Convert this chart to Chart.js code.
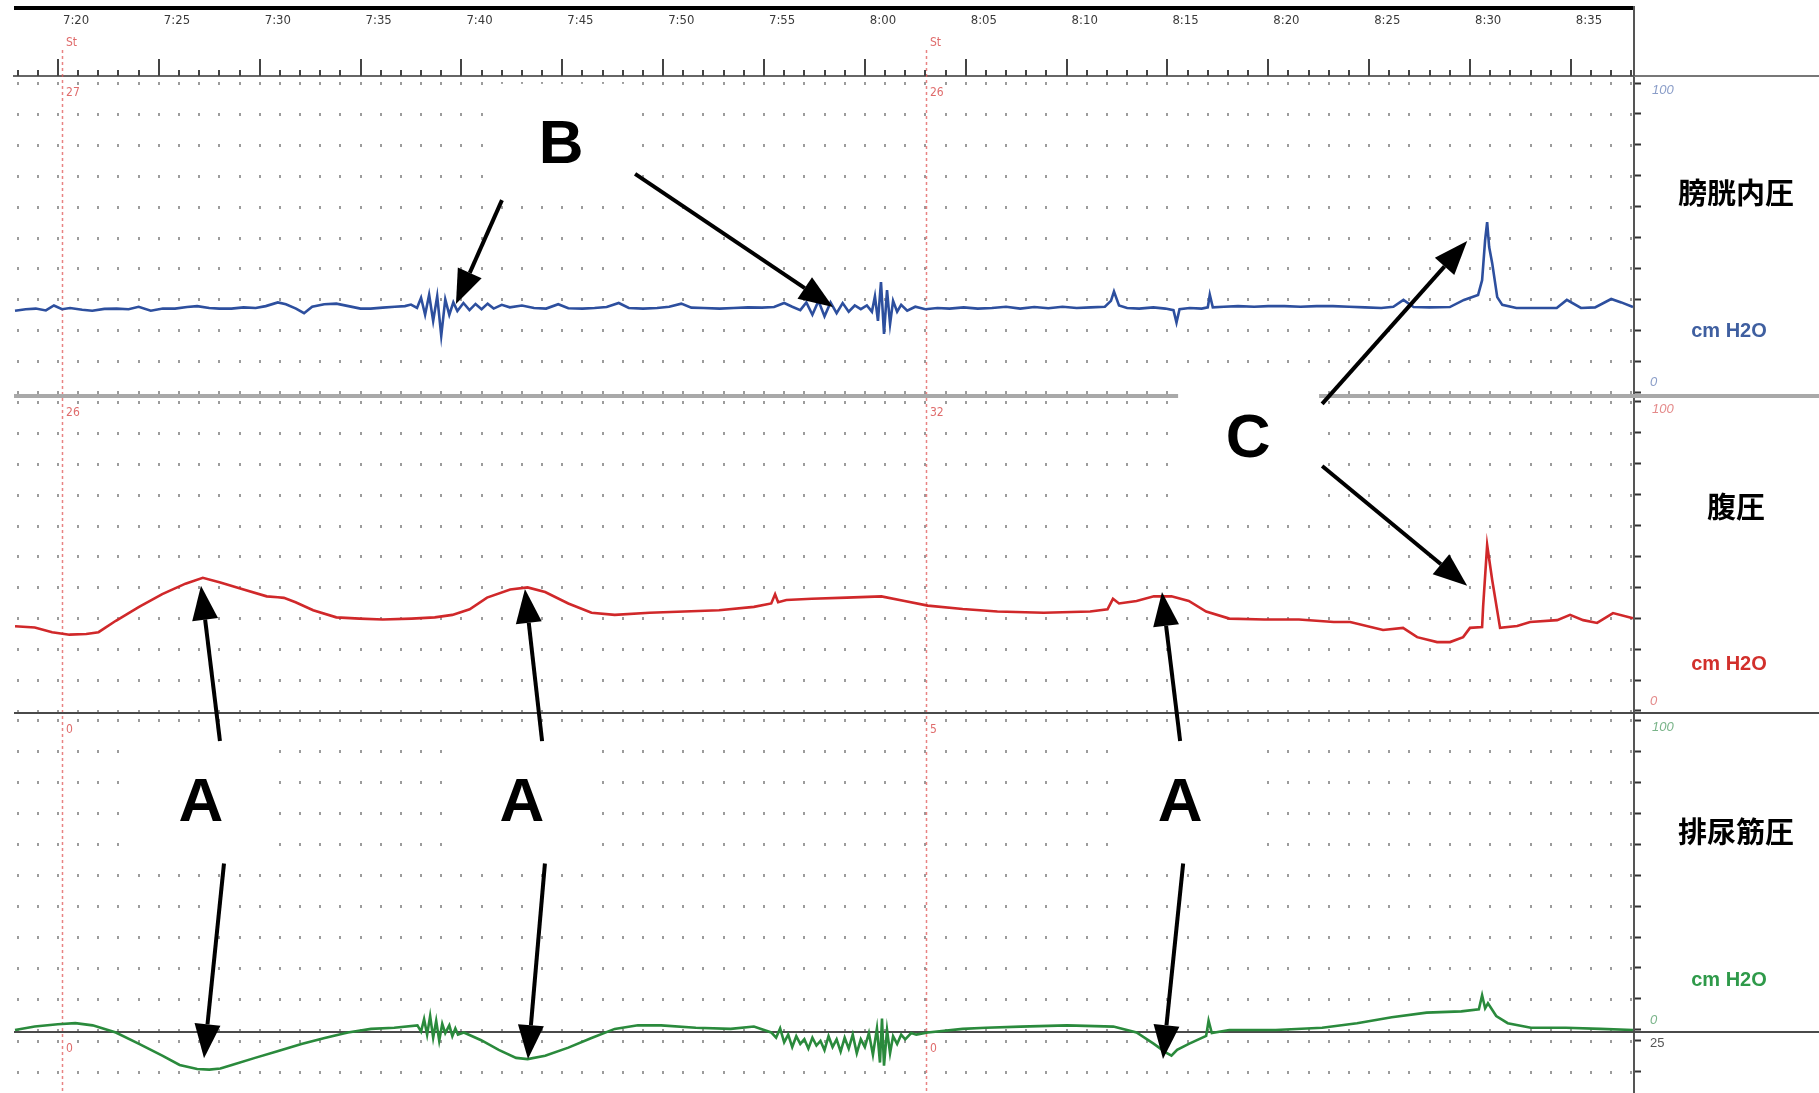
<!DOCTYPE html>
<html>
<head>
<meta charset="utf-8">
<script src="https://cdn.jsdelivr.net/npm/chart.js@4.4.1/dist/chart.umd.min.js"></script>
<style>
html, body { margin: 0; padding: 0; background: #fff; }
</style>
</head>
<body>
<canvas id="grafico" width="1819" height="1093"></canvas>
<script>
// tiempo en minutos despues de las 7:00, valores en cm H2O
const vejiga = [
  [17.87,26.3],[18.4,26.8],[18.9,27.0],[19.4,26.4],[19.8,28.0],[20.2,26.8],[20.6,27.2],[21.2,26.6],
  [21.7,26.3],[22.3,26.9],[22.9,27.0],[23.5,26.8],[24.0,27.6],[24.6,26.3],[25.2,27.0],[25.8,27.0],
  [26.4,27.5],[26.9,27.8],[27.5,27.2],[28.0,27.0],[28.6,27.0],[29.2,27.4],[29.8,27.2],[30.3,27.8],
  [30.9,29.0],[31.3,28.4],[31.8,27.0],[32.2,25.5],[32.6,27.6],[33.2,28.4],[33.8,28.6],[34.4,27.8],
  [35.0,27.0],[35.5,27.0],[36.1,27.3],[36.7,27.6],[37.2,27.8],[37.5,28.3],[37.8,27.2],[38.0,30.5],
  [38.2,25.0],[38.4,31.5],[38.6,23.0],[38.8,31.0],[39.0,18.2],[39.2,30.0],[39.4,25.0],[39.6,29.0],
  [39.8,26.2],[40.1,28.8],[40.4,26.5],[40.7,28.5],[41.0,26.8],[41.3,28.6],[41.6,27.0],[42.0,28.2],
  [42.4,27.4],[43.0,28.0],[43.6,27.2],[44.2,27.0],[44.8,28.4],
  [45.3,27.1],[46.0,27.0],[46.6,27.2],[47.2,27.5],[47.8,28.8],[48.3,27.2],[49.0,27.0],[49.7,27.2],
  [50.3,27.6],[50.9,28.6],[51.4,27.3],[52.0,27.2],[52.8,27.0],[53.5,27.2],[54.2,27.4],[54.9,27.3],
  [55.5,27.5],[56.0,28.8],[56.4,27.6],[56.8,26.5],[57.1,29.0],[57.4,25.0],[57.7,29.5],[58.0,24.5],
  [58.3,29.0],[58.6,25.5],[58.9,28.8],[59.2,26.0],[59.5,28.0],[59.8,26.8],[60.1,28.0],[60.35,26.0],
  [60.5,31.0],[60.65,23.0],[60.8,35.6],[60.95,18.8],[61.1,33.0],[61.25,22.0],[61.4,29.5],[61.6,26.0],
  [61.8,28.2],[62.1,26.3],[62.5,27.6],[63.0,26.8],
  [63.6,27.2],[64.2,27.0],[64.9,27.4],[65.6,27.0],[66.3,27.2],[67.0,27.6],[67.7,27.0],[68.4,27.5],
  [69.1,27.1],[69.8,27.6],[70.5,27.2],[71.2,27.4],[71.9,27.6],[72.2,29.5],[72.35,32.5],[72.6,28.0],
  [73.0,27.2],[73.6,27.0],[74.3,27.4],[74.9,27.0],[75.3,26.5],[75.45,22.5],[75.6,26.8],[76.1,27.2],
  [76.7,27.0],[77.0,27.4],[77.1,31.5],[77.25,27.4],[77.8,27.6],[78.5,27.8],[79.3,27.6],[80.0,27.8],
  [80.8,27.8],[81.6,27.6],[82.4,27.8],[83.2,27.8],[84.0,27.6],[84.8,27.4],[85.6,27.2],[86.2,27.6],
  [86.7,29.8],[87.2,27.5],[88.0,27.4],[89.0,27.5],[89.7,29.8],[90.4,31.4],[90.6,36.2],[90.75,49.2],
  [90.85,55.0],[90.95,46.9],[91.1,41.7],[91.35,30.7],[91.6,28.2],[92.3,27.2],[93.5,27.2],[94.3,27.2],
  [94.8,29.8],[95.5,27.2],[96.2,27.4],[97.0,30.1],[97.5,29.0],[98.08,27.5]
];

const abdominal = [
  [17.87,27.4],[18.85,27.0],[19.71,25.5],[20.57,24.7],[21.4,24.9],[22.01,25.5],[22.87,29.2],[24.02,33.7],
  [25.17,37.8],[26.32,41.2],[27.18,43.1],[28.05,41.6],[29.2,39.3],[30.35,37.1],[30.9,36.8],[31.2,36.6],
  [31.78,35.2],[32.65,32.6],[33.8,30.3],[34.95,29.9],[36.1,29.6],[37.53,29.9],[38.68,30.3],[39.55,31.1],
  [40.41,32.9],[41.27,36.7],[42.42,39.3],[43.28,40.0],[44.15,38.5],[45.3,34.8],[46.45,31.8],[47.6,31.1],
  [49.32,31.8],[51.05,32.2],[52.77,32.6],[54.5,33.7],[55.36,34.8],[55.55,37.8],[55.7,35.2],[56.11,35.9],
  [57.37,36.3],[59.1,36.7],[60.82,37.1],[61.97,35.6],[63.12,34.1],[64.85,33.0],[66.57,32.2],[68.87,31.8],
  [71.17,32.2],[72.03,32.9],[72.3,36.3],[72.6,34.8],[73.47,35.6],[74.33,37.1],[75.2,37.1],[76.06,35.6],
  [76.92,32.2],[78.07,29.9],[79.8,29.6],[81.52,29.6],[83.25,28.8],[84.06,28.8],[85.69,26.2],[86.68,26.9],
  [87.38,23.9],[88.37,22.3],[89.01,22.3],[89.66,23.9],[90.0,26.9],[90.6,27.2],[90.65,33.7],[90.85,53.7],
  [91.1,42.4],[91.49,26.9],[92.34,27.5],[92.98,28.8],[94.32,29.4],[94.96,31.1],[95.61,29.4],[96.3,28.5],
  [97.09,31.7],[98.08,30.0]
];

const detrusor = [
  [17.87,0.0],[18.85,1.1],[19.99,1.85],[20.86,2.2],[21.72,1.5],[22.87,-0.8],[24.02,-4.5],[25.17,-8.3],
  [26.03,-11.3],[26.9,-12.6],[27.5,-12.8],[28.05,-12.4],[28.62,-11.3],[29.77,-9.0],[30.92,-6.8],[32.07,-4.5],
  [33.22,-2.6],[34.37,-0.8],[35.52,0.35],[36.67,0.7],[37.82,1.5],[38.0,-0.5],[38.15,3.5],[38.3,-1.5],
  [38.45,4.5],[38.6,-2.5],[38.75,3.0],[38.9,-3.5],[39.05,2.0],[39.2,-1.0],[39.4,1.5],[39.55,-2.0],
  [39.7,0.5],[39.83,-1.5],[40.12,-0.8],[40.98,-3.3],[41.85,-6.4],[42.71,-9.0],[43.28,-9.4],[44.15,-8.3],
  [45.3,-5.7],[46.45,-2.6],[47.6,0.35],[48.75,1.5],[49.9,1.5],[51.62,0.7],[53.35,0.35],[54.5,1.1],
  [55.36,-0.8],[55.6,-2.5],[55.8,0.5],[56.0,-4.0],[56.2,-1.5],[56.4,-5.5],[56.6,-2.0],[56.8,-4.5],
  [57.0,-3.0],[57.2,-6.0],[57.4,-2.5],[57.6,-5.0],[57.8,-3.5],[58.0,-6.5],[58.2,-2.0],[58.4,-5.5],
  [58.6,-3.0],[58.8,-7.0],[59.0,-2.5],[59.2,-6.0],[59.4,-1.5],[59.6,-7.5],[59.8,-3.0],[60.0,-5.5],
  [60.2,-1.0],[60.4,-8.0],[60.6,0.5],[60.75,-10.5],[60.85,3.7],[60.95,-11.5],[61.1,0.0],[61.25,-7.5],
  [61.4,-2.0],[61.6,-4.5],[61.8,-1.5],[62.0,-3.0],[62.3,-1.0],[62.55,-1.5],[63.12,-0.8],[64.85,0.35],
  [66.0,0.7],[67.72,1.1],[70.02,1.48],[72.32,1.1],[73.47,-0.8],[74.33,-4.5],[74.91,-7.2],[75.2,-8.3],
  [75.48,-6.4],[76.06,-4.5],[76.92,-1.9],[77.04,3.0],[77.2,-1.0],[78.07,0.0],[80.37,0.0],[82.67,0.73],
  [84.4,2.2],[86.12,4.1],[87.85,5.6],[89.57,6.0],[90.44,6.7],[90.6,11.2],[90.75,7.0],[90.89,8.6],
  [91.3,4.5],[91.87,2.2],[93.02,0.73],[94.75,0.73],[96.47,0.35],[98.08,0.0]
];

// etiquetas de cada canal
const titulosPanel = ['膀胱内圧', '腹圧', '排尿筋圧'];
const unidad = 'cm H2O';

// marcas de evento (St) y sus numeros en cada canal
const marcadoresTiempo = [20.2, 63.03];
const marcadoresEtiquetas = [['27', '26'], ['26', '32'], ['0', '5'], ['0', '0']];

// anotaciones: letra, minuto, valor, eje
const letras = [
  ['B', 44.94, 80.3, 'yB'],
  ['A', 27.09, 73.5, 'yD'],
  ['A', 43.0, 73.5, 'yD'],
  ['A', 75.63, 73.5, 'yD'],
  ['C', 79.0, 88.3, 'yA']
];
// flechas: desde [min, valor, eje] hasta [min, valor, eje]
const flechas = [
  [42.01, 62.1, 'yB', 39.73, 28.5, 'yB'],
  [48.61, 70.6, 'yB', 58.42, 27.5, 'yB'],
  [28.03, 93.2, 'yD', 27.09, 40.5, 'yA'],
  [28.23, 53.7, 'yD', 27.24, -9.1, 'yD'],
  [44.0, 93.2, 'yD', 43.15, 39.5, 'yA'],
  [44.14, 53.7, 'yD', 43.3, -9.4, 'yD'],
  [75.63, 93.2, 'yD', 74.73, 38.5, 'yA'],
  [75.78, 53.7, 'yD', 74.78, -9.4, 'yD'],
  [82.67, 99.4, 'yA', 89.86, 48.9, 'yB'],
  [82.67, 79.3, 'yA', 89.86, 40.5, 'yA']
];

const fuenteEstrecha = "'Liberation Sans Narrow', 'DejaVu Sans Condensed', sans-serif";

const horaTexto = v => `${7 + Math.floor(v / 60)}:${String(v % 60).padStart(2, '0')}`;

const ejePanel = (min, max, peso) => ({
  type: 'linear',
  position: 'right',
  stack: 'canales',
  stackWeight: peso,
  min: min,
  max: max,
  afterFit: s => { s.width = 185; },
  afterBuildTicks: s => {
    if (s.id === 'yX') s.ticks = [{value: 15}, {value: 25}];
  },
  ticks: { display: false, stepSize: 10, includeBounds: false },
  grid: { drawOnChartArea: false, tickLength: 7, tickWidth: 2, tickColor: '#333' },
  border: { color: '#555', width: 2 }
});

const decorado = {
  id: 'decorado',
  beforeDraw(chart) {
    const ctx = chart.ctx;
    ctx.save();
    ctx.fillStyle = '#fff';
    ctx.fillRect(0, 0, chart.width, chart.height);
    ctx.restore();
  },
  beforeDatasetsDraw(chart) {
    const { ctx, chartArea: area, scales } = chart;
    const x = scales.x;
    ctx.save();

    // puntos de la reticula
    ctx.fillStyle = '#9c9c9c';
    ['yB', 'yA', 'yD', 'yX'].forEach(id => {
      const s = scales[id];
      s.ticks.forEach(t => {
        const py = Math.round(s.getPixelForValue(t.value));
        for (let m = Math.ceil(x.min); m <= x.max; m++) {
          const px = Math.round(x.getPixelForValue(m));
          ctx.fillRect(px - 1, py - 1, 2, 3);
        }
      });
    });

    // marcas de evento
    ctx.strokeStyle = 'rgba(225, 90, 90, 0.75)';
    ctx.lineWidth = 1.5;
    ctx.setLineDash([3, 3]);
    marcadoresTiempo.forEach(t => {
      const px = Math.round(x.getPixelForValue(t)) + 0.5;
      ctx.beginPath();
      ctx.moveTo(px, 50);
      ctx.lineTo(px, chart.height);
      ctx.stroke();
    });
    ctx.setLineDash([]);

    // separadores de canal
    const sep = [['yB', '#a9a9a9', 4], ['yA', '#4a4a4a', 2], ['yD', '#4a4a4a', 2]];
    sep.forEach(([id, color, w]) => {
      ctx.strokeStyle = color;
      ctx.lineWidth = w;
      ctx.beginPath();
      ctx.moveTo(area.left, scales[id].bottom);
      ctx.lineTo(chart.width, scales[id].bottom);
      ctx.stroke();
    });
    ctx.strokeStyle = '#777';
    ctx.lineWidth = 2;
    ctx.beginPath();
    ctx.moveTo(area.right, area.top);
    ctx.lineTo(chart.width, area.top);
    ctx.stroke();

    // regla de tiempo
    ctx.strokeStyle = '#444';
    ctx.lineWidth = 2;
    for (let m = Math.ceil(x.min); m <= x.max; m++) {
      const px = Math.round(x.getPixelForValue(m));
      const largo = m % 5 === 0 ? 17 : 6;
      ctx.beginPath();
      ctx.moveTo(px, area.top);
      ctx.lineTo(px, area.top - largo);
      ctx.stroke();
    }

    // linea negra superior y eje derecho arriba
    ctx.fillStyle = '#000';
    ctx.fillRect(area.left, 6, area.right - area.left, 4);
    ctx.strokeStyle = '#555';
    ctx.beginPath();
    ctx.moveTo(area.right, 6);
    ctx.lineTo(area.right, area.top);
    ctx.stroke();

    // textos de eventos
    ctx.font = `12px ${fuenteEstrecha}`;
    ctx.textAlign = 'left';
    ctx.textBaseline = 'middle';
    ctx.fillStyle = 'rgba(215, 70, 70, 0.8)';
    marcadoresTiempo.forEach(t => {
      ctx.fillText('St', x.getPixelForValue(t) + 4, 43);
    });
    ['yB', 'yA', 'yD', 'yX'].forEach((id, i) => {
      const y = scales[id].top + 17;
      marcadoresTiempo.forEach((t, j) => {
        ctx.fillText(marcadoresEtiquetas[i][j], x.getPixelForValue(t) + 4, y);
      });
    });
    ctx.restore();
  },
  afterDatasetsDraw(chart) {
    const { ctx, scales } = chart;
    const x = scales.x;
    const punto = (t, v, id) => [x.getPixelForValue(t), scales[id].getPixelForValue(v)];
    ctx.save();

    letras.forEach(([letra, t, v, id]) => {
      const [px, py] = punto(t, v, id);
      ctx.fillStyle = '#fff';
      ctx.fillRect(px - 70, py - 60, 141, 120);
    });

    ctx.fillStyle = '#000';
    ctx.strokeStyle = '#000';
    ctx.lineWidth = 4;
    flechas.forEach(([t0, v0, e0, t1, v1, e1]) => {
      const [x0, y0] = punto(t0, v0, e0);
      const [x1, y1] = punto(t1, v1, e1);
      const ang = Math.atan2(y1 - y0, x1 - x0);
      const largo = 34, ancho = 13;
      const bx = x1 - largo * Math.cos(ang), by = y1 - largo * Math.sin(ang);
      ctx.beginPath();
      ctx.moveTo(x0, y0);
      ctx.lineTo(bx, by);
      ctx.stroke();
      ctx.beginPath();
      ctx.moveTo(x1, y1);
      ctx.lineTo(bx + ancho * Math.sin(ang), by - ancho * Math.cos(ang));
      ctx.lineTo(bx - ancho * Math.sin(ang), by + ancho * Math.cos(ang));
      ctx.closePath();
      ctx.fill();
    });

    ctx.font = "bold 62px 'Liberation Sans', Arial, sans-serif";
    ctx.textAlign = 'center';
    ctx.textBaseline = 'middle';
    letras.forEach(([letra, t, v, id]) => {
      const [px, py] = punto(t, v, id);
      ctx.fillText(letra, px, py + 2);
    });
    ctx.restore();
  },
  afterDraw(chart) {
    const { ctx, chartArea: area, scales } = chart;
    const colores = [
      ['#3f5fa0', '#8a9dc8'],
      ['#d2302c', '#e48a8a'],
      ['#2f9a4a', '#79b489']
    ];
    const tituloValor = [64.4, 66.0, 63.8];
    const unidadValor = [19.7, 15.2, 15.9];
    ctx.save();
    ['yB', 'yA', 'yD'].forEach((id, i) => {
      const s = scales[id];
      ctx.textAlign = 'left';
      ctx.textBaseline = 'middle';
      ctx.font = "italic 13px 'Liberation Sans', Arial, sans-serif";
      ctx.fillStyle = colores[i][1];
      ctx.fillText('100', area.right + 18, s.getPixelForValue(100) + 7);
      ctx.fillText('0', area.right + 16, s.getPixelForValue(0) - 10);

      ctx.textAlign = 'center';
      ctx.fillStyle = '#000';
      ctx.font = "bold 29px 'Noto Sans CJK JP', sans-serif";
      ctx.fillText(titulosPanel[i], area.right + 102, s.getPixelForValue(tituloValor[i]));

      ctx.fillStyle = colores[i][0];
      ctx.font = "bold 20px 'Liberation Sans', Arial, sans-serif";
      ctx.fillText(unidad, area.right + 95, s.getPixelForValue(unidadValor[i]));
    });
    ctx.textAlign = 'left';
    ctx.font = "13px 'Liberation Sans', Arial, sans-serif";
    ctx.fillStyle = '#555';
    ctx.fillText('25', area.right + 16, scales.yX.getPixelForValue(25) + 2);
    ctx.restore();
  }
};

const serie = (datos, color, eje) => ({
  data: datos.map(([t, v]) => ({ x: t, y: v })),
  borderColor: color,
  borderWidth: 2.6,
  pointRadius: 0,
  tension: 0,
  clip: false,
  yAxisID: eje
});

const grafico = new Chart(document.querySelector('#grafico'), {
  type: 'line',
  data: {
    datasets: [
      serie(vejiga, '#2d4f9e', 'yB'),
      serie(abdominal, '#d0282a', 'yA'),
      serie(detrusor, '#2a8a3c', 'yD')
    ]
  },
  options: {
    responsive: false,
    animation: false,
    devicePixelRatio: 1,
    layout: { padding: { left: 14, right: 0, top: 0, bottom: 0 } },
    plugins: { legend: { display: false }, tooltip: { enabled: false } },
    scales: {
      x: {
        type: 'linear',
        position: 'top',
        min: 17.82,
        max: 98.13,
        afterFit: s => { s.height = 76; },
        grid: { display: false, drawTicks: false },
        border: { display: true, color: '#666', width: 2 },
        ticks: {
          stepSize: 5,
          includeBounds: false,
          autoSkip: false,
          maxRotation: 0,
          align: 'start',
          labelOffset: 5,
          padding: 48,
          color: '#3a3a3a',
          font: { family: fuenteEstrecha, size: 13 },
          callback: v => horaTexto(v)
        }
      },
      yB: ejePanel(-1.29, 102.27, 320),
      yA: ejePanel(-0.65, 101.94, 317),
      yD: ejePanel(-0.65, 102.27, 319),
      yX: ejePanel(8.2, 27.9, 61)
    }
  },
  plugins: [decorado]
});
</script>
</body>
</html>
